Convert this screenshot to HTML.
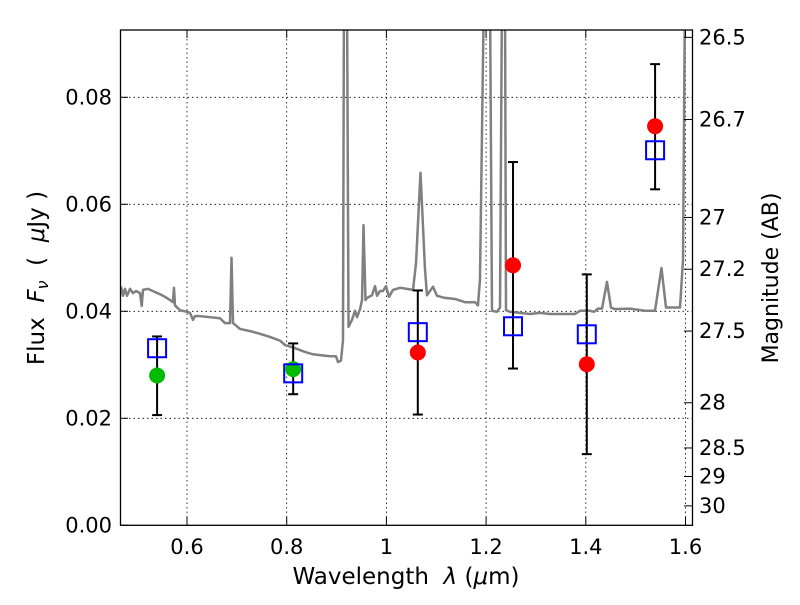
<!DOCTYPE html>
<html><head><meta charset="utf-8"><style>
body{margin:0;background:#fff}
svg text{font-family:"DejaVu Sans","Liberation Sans",sans-serif;fill:#000;white-space:pre}
</style></head><body>
<svg id="chart" width="800" height="600" xmlns="http://www.w3.org/2000/svg">
<defs><clipPath id="clip"><rect x="120.5" y="30" width="572" height="495.3"/></clipPath></defs>
<g id="grid"></g>
<g id="spec" clip-path="url(#clip)"></g>
<g id="marks"></g>
<rect x="120.5" y="30" width="572" height="495.3" fill="none" stroke="#000" stroke-width="1.3"/>
<g id="axes"></g>
<text x="406" y="584" font-size="23" text-anchor="middle">Wavelength  <tspan font-style="italic">λ</tspan> (<tspan font-style="italic">μ</tspan>m)</text>
<text transform="translate(44,278) rotate(-90)" font-size="23" text-anchor="middle">Flux  <tspan font-style="italic">F<tspan font-size="16" dy="4">ν</tspan></tspan><tspan dy="-4">  (  </tspan><tspan font-style="italic">μ</tspan>Jy )</text>
<text transform="translate(778,278) rotate(-90)" font-size="22" text-anchor="middle">Magnitude (AB)</text>
</svg>
<script>
const xTicks=[0.6,0.8,1.0,1.2,1.4,1.6];
const xTickLabels=["0.6","0.8","1","1.2","1.4","1.6"];
const yTicks=[0,0.02,0.04,0.06,0.08];
const yTickLabels=["0.00","0.02","0.04","0.06","0.08"];
const magTicks=[26.5,26.7,27,27.2,27.5,28,28.5,29,30];
const magTickLabels=["26.5","26.7","27","27.2","27.5","28","28.5","29","30"];
const specLambda=[0.4676,0.4716,0.4756,0.4796,0.4857,0.4917,0.4977,0.5057,0.5091,0.5117,0.5218,0.5358,0.5458,0.5559,0.5659,0.5719,0.5739,0.5759,0.5860,0.6,0.6060,0.6120,0.6160,0.6261,0.6461,0.6662,0.6762,0.6863,0.6893,0.6923,0.7063,0.7264,0.7464,0.7665,0.7866,0.7966,0.8167,0.8367,0.8508,0.8668,0.8869,0.8989,0.9029,0.9089,0.9129,0.9149,0.9210,0.9240,0.9310,0.9370,0.9410,0.9471,0.9511,0.9541,0.9581,0.9611,0.9711,0.9771,0.9812,0.9872,0.9932,0.9992,1.0052,1.0132,1.0273,1.0534,1.0594,1.0684,1.0774,1.0814,1.0935,1.1015,1.1175,1.1376,1.1577,1.1777,1.1837,1.1877,1.1957,1.2078,1.2118,1.2218,1.2279,1.2319,1.2379,1.2399,1.2479,1.2680,1.2881,1.3081,1.3282,1.3783,1.3884,1.4084,1.4164,1.4244,1.4325,1.4425,1.4505,1.4585,1.4886,1.5187,1.5388,1.5518,1.5609,1.5890,1.5950,1.5990,1.6130];
const specFlux=[0.0446,0.0429,0.0442,0.0429,0.0442,0.0434,0.0438,0.0434,0.0410,0.0440,0.0442,0.0436,0.0432,0.0427,0.0421,0.0417,0.0444,0.0411,0.0402,0.0399,0.0397,0.0384,0.0391,0.0391,0.0389,0.0387,0.0378,0.0378,0.0500,0.0378,0.0367,0.0363,0.0358,0.0352,0.0345,0.0337,0.0331,0.0324,0.0320,0.0318,0.0316,0.0316,0.0305,0.0308,0.0346,0.1,0.1,0.0371,0.0384,0.0401,0.0389,0.0404,0.0421,0.0561,0.0421,0.0425,0.0430,0.0447,0.0429,0.0438,0.0438,0.0447,0.0427,0.0440,0.0444,0.0440,0.0490,0.0659,0.0479,0.0430,0.0446,0.0429,0.0425,0.0423,0.0417,0.0417,0.0411,0.0459,0.1,0.1,0.0401,0.0399,0.0407,0.1,0.1,0.0402,0.0399,0.0397,0.0395,0.0397,0.0395,0.0395,0.0401,0.0401,0.0399,0.0405,0.0405,0.0455,0.0407,0.0404,0.0405,0.0401,0.0401,0.0481,0.0407,0.0407,0.0496,0.1,0.1];
const photLambda=[0.540,0.813,1.063,1.254,1.402,1.539];
const obsFlux=[0.0280,0.0292,0.0323,0.0486,0.0301,0.0746];
const obsColor=["#00bb00","#00bb00","#ff0000","#ff0000","#ff0000","#ff0000"];
const modelFlux=[0.0331,0.0284,0.0361,0.0372,0.0357,0.0701];
const errLow=[0.0206,0.0245,0.0207,0.0293,0.0133,0.0628];
const errHigh=[0.0353,0.0340,0.0439,0.0679,0.0469,0.0862];
const NS="http://www.w3.org/2000/svg";
const X=v=>187+(v-0.6)*498.5;
const Y=v=>525.3-v*5350;
const magY=m=>Y(Math.pow(10,(23.9-m)/2.5));
function mk(tag,attrs,parent){const e=document.createElementNS(NS,tag);for(const k in attrs)e.setAttribute(k,attrs[k]);parent.appendChild(e);return e;}
const grid=document.getElementById('grid'),axes=document.getElementById('axes'),spec=document.getElementById('spec'),marks=document.getElementById('marks');
xTicks.forEach((t,i)=>{
 const g=mk('line',{x1:X(t),x2:X(t),y1:30,y2:525,stroke:'#000','stroke-width':0.8,'stroke-dasharray':'1.5,3'},grid);
 
 mk('line',{x1:X(t),x2:X(t),y1:525,y2:517,stroke:'#000','stroke-width':1},axes);
 mk('line',{x1:X(t),x2:X(t),y1:30,y2:38,stroke:'#000','stroke-width':1},axes);
 const tx=mk('text',{x:X(t),y:554,'font-size':21,'text-anchor':'middle'},axes);tx.textContent=xTickLabels[i];
 
});
yTicks.forEach((t,i)=>{
 if(t>0){const g=mk('line',{x1:120,x2:692,y1:Y(t),y2:Y(t),stroke:'#000','stroke-width':0.8,'stroke-dasharray':'1.5,3'},grid);
 }
 mk('line',{x1:120,x2:128,y1:Y(t),y2:Y(t),stroke:'#000','stroke-width':1},axes);
 const tx=mk('text',{x:112,y:Y(t)+7,'font-size':21,'text-anchor':'end'},axes);tx.textContent=yTickLabels[i];
 
});
magTicks.forEach((m,i)=>{
 mk('line',{x1:684,x2:692,y1:magY(m),y2:magY(m),stroke:'#000','stroke-width':1},axes);
 const tx=mk('text',{x:699,y:magY(m)+7,'font-size':21},axes);tx.textContent=magTickLabels[i];
 
});
const sp=mk('polyline',{points:specLambda.map((l,i)=>X(l)+','+Y(specFlux[i])).join(' '),fill:'none',stroke:'#808080','stroke-width':2.5,'stroke-linejoin':'round'},spec);

photLambda.forEach((l,i)=>{
 const x=X(l);
 const e=mk('line',{x1:x,x2:x,y1:Y(errLow[i]),y2:Y(errHigh[i]),stroke:'#000','stroke-width':2},marks);
 
 mk('line',{x1:x-5,x2:x+5,y1:Y(errLow[i]),y2:Y(errLow[i]),stroke:'#000','stroke-width':2},marks);
 mk('line',{x1:x-5,x2:x+5,y1:Y(errHigh[i]),y2:Y(errHigh[i]),stroke:'#000','stroke-width':2},marks);
 const c=mk('circle',{cx:x,cy:Y(obsFlux[i]),r:8,fill:obsColor[i]},marks);
 
 const s=mk('rect',{x:x-9,y:Y(modelFlux[i])-9,width:18,height:18,fill:'none',stroke:'#0000ff','stroke-width':2},marks);
 
});
</script>
</body></html>
